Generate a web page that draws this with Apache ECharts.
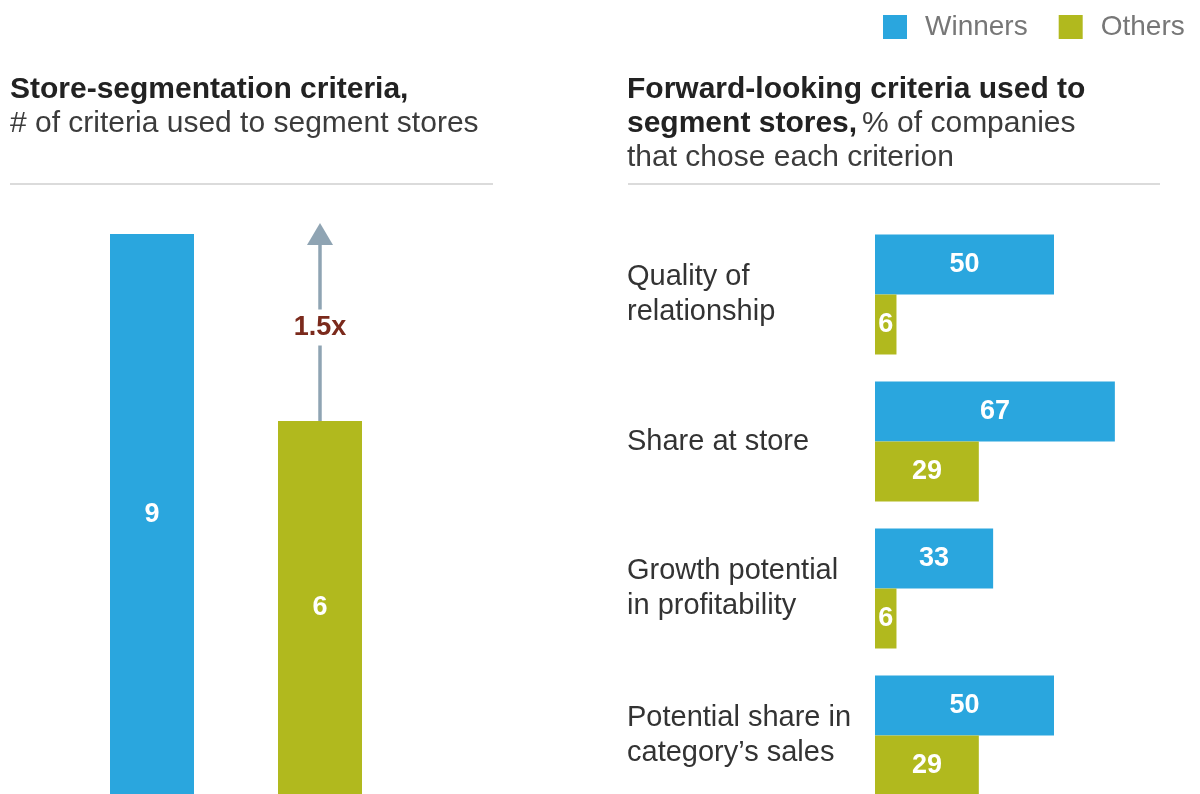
<!DOCTYPE html>
<html>
<head>
<meta charset="utf-8">
<script src="https://cdn.jsdelivr.net/npm/echarts@6/dist/echarts.min.js"></script>
<style>
  html, body { margin: 0; padding: 0; background: #fff; }
  #chart { width: 1200px; height: 794px; }
</style>
</head>
<body>
<div id="chart"></div>
<script>
// Left panel: number of criteria used to segment stores
const segGroups = ['Winners', 'Others'];
const segCounts = [9, 6];
const segMultiple = '1.5x';

// Right panel: % of companies choosing each forward-looking criterion
const criteria = [
  'Quality of\nrelationship',
  'Share at store',
  'Growth potential\nin profitability',
  'Potential share in\ncategory\u2019s sales'
];
const winnersPct = [50, 67, 33, 50];
const othersPct = [6, 29, 6, 29];

const BLUE = '#2aa6de';
const OLIVE = '#b1b91e';
const FONT = '"Liberation Sans", Arial, Helvetica, sans-serif';

const chart = echarts.init(document.getElementById('chart'), null, { renderer: 'canvas' });

const valueLabel = {
  show: true,
  position: 'inside',
  color: '#fff',
  fontFamily: FONT,
  fontWeight: 'bold',
  fontSize: 27
};

const titleRich = {
  b: { fontFamily: FONT, fontWeight: 'bold', fontSize: 30, color: '#222', lineHeight: 34 },
  n: { fontFamily: FONT, fontWeight: 'normal', fontSize: 30, color: '#3c3c3c', lineHeight: 34 }
};

const option = {
  backgroundColor: '#fff',
  textStyle: { fontFamily: FONT },
  animation: false,
  legend: {
    data: ['Winners', 'Others'],
    top: 13,
    left: 883,
    padding: 0,
    icon: 'rect',
    itemWidth: 24,
    itemHeight: 24,
    itemGap: 31,
    textStyle: { color: '#777', fontSize: 28, fontFamily: FONT, padding: [0, 0, 0, 13] }
  },
  title: [
    {
      left: 10, top: 73, padding: 0,
      text: '{b|Store-segmentation criteria,}\n{n|# of criteria used to segment stores}',
      textStyle: { fontWeight: 'normal', lineHeight: 34, rich: titleRich }
    },
    {
      left: 627, top: 73, padding: 0,
      text: '{b|Forward-looking criteria used to}\n{b|segment stores,} {n|% of companies}\n{n|that chose each criterion}',
      textStyle: { fontWeight: 'normal', lineHeight: 34, rich: titleRich }
    }
  ],
  graphic: [
    { type: 'line', shape: { x1: 10, y1: 184, x2: 493, y2: 184 }, style: { stroke: '#cfcfcf', lineWidth: 1.5 } },
    { type: 'line', shape: { x1: 628, y1: 184, x2: 1160, y2: 184 }, style: { stroke: '#cfcfcf', lineWidth: 1.5 } }
  ],
  grid: [
    { left: 68, top: 234, width: 336, height: 561, outerBoundsMode: 'none', containLabel: false },
    { left: 875, top: 221, width: 358, height: 588, outerBoundsMode: 'none', containLabel: false }
  ],
  xAxis: [
    { gridIndex: 0, type: 'category', data: segGroups, show: false },
    { gridIndex: 1, type: 'value', min: 0, max: 100, show: false }
  ],
  yAxis: [
    { gridIndex: 0, type: 'value', min: 0, max: 9, show: false },
    {
      gridIndex: 1, type: 'category', data: criteria, inverse: true,
      axisLine: { show: false }, axisTick: { show: false }, splitLine: { show: false },
      axisLabel: {
        align: 'left', margin: 248, color: '#333', fontSize: 29, lineHeight: 35, fontFamily: FONT
      }
    }
  ],
  series: [
    {
      name: 'Winners', type: 'bar', xAxisIndex: 0, yAxisIndex: 0,
      data: [segCounts[0], '-'], barWidth: 84, barGap: '-100%',
      itemStyle: { color: BLUE }, label: valueLabel
    },
    {
      name: 'Others', type: 'bar', xAxisIndex: 0, yAxisIndex: 0,
      data: ['-', segCounts[1]], barWidth: 84, barGap: '-100%',
      itemStyle: { color: OLIVE }, label: valueLabel,
      markLine: {
        silent: true,
        symbol: ['none', 'triangle'],
        symbolSize: [26, 22],
        lineStyle: { color: '#8fa4b3', width: 3.5, type: 'solid' },
        label: { show: false },
        data: [[{ coord: [1, segCounts[1]] }, { coord: [1, segCounts[0]] }]]
      },
      markPoint: {
        silent: true,
        symbol: 'rect',
        symbolSize: [70, 36],
        itemStyle: { color: '#fff' },
        label: {
          show: true, formatter: segMultiple, color: '#7b2a1c',
          fontFamily: FONT, fontWeight: 'bold', fontSize: 27
        },
        data: [{ coord: [1, (segCounts[0] + segCounts[1]) / 2] }]
      }
    },
    {
      name: 'Winners', type: 'bar', xAxisIndex: 1, yAxisIndex: 1,
      data: winnersPct, barWidth: 60, barGap: '0%',
      itemStyle: { color: BLUE }, label: valueLabel
    },
    {
      name: 'Others', type: 'bar', xAxisIndex: 1, yAxisIndex: 1,
      data: othersPct, barWidth: 60, barGap: '0%',
      itemStyle: { color: OLIVE }, label: valueLabel
    }
  ]
};

chart.setOption(option);
</script>
</body>
</html>
